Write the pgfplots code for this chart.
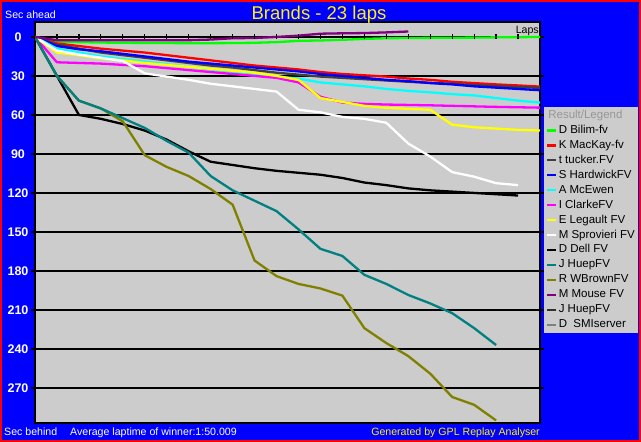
\documentclass[border=0pt]{standalone}
\usepackage{pgfplots}
\pgfplotsset{compat=1.18}
\usepackage{pgfplotstable}
\usepackage{fontspec}
\setmainfont{Liberation Sans}

\definecolor{bgblue}{RGB}{0,0,255}
\definecolor{plotbg}{RGB}{204,204,204}
\definecolor{resgray}{RGB}{150,150,150}
\definecolor{gplgreen}{RGB}{0,255,0}
\definecolor{gplred}{RGB}{255,0,0}
\definecolor{gplgrey}{RGB}{64,64,64}
\definecolor{gplblue}{RGB}{0,0,255}
\definecolor{gplcyan}{RGB}{0,255,255}
\definecolor{gplmag}{RGB}{255,0,255}
\definecolor{gplyellow}{RGB}{255,255,0}
\definecolor{gplteal}{RGB}{0,128,128}
\definecolor{gplolive}{RGB}{128,128,0}
\definecolor{gplpurple}{RGB}{128,0,128}
\definecolor{gpldark}{RGB}{48,48,48}
\definecolor{gplsmi}{RGB}{128,128,128}

% seconds behind per lap
\pgfplotstableread{
lap bilim mackay tucker hardwick mcewen clarke legault sprovieri dell huep wbrown mouse
0  0    0    0    0    0    0    0    0     0     0     0     0
1  3.5  5    6    7    9    19.5 12   10.5  30    30    30    2.5
2  4    7    9    9.5  12   20   14   13.5  60    49    49    2.5
3  4.3  9    12   11   15   20.5 16.5 16    63    55    55    2.5
4  4.5  10.5 14   13   17   21.5 18   18.5  67    62.5  65    2.5
5  4.6  12   16   15   19   22.5 20   28    72    70    91    2.5
6  4.7  14   18   17   21   24   21.5 30.5  79    80    100   2.5
7  4.8  16   20   19   23   25.5 23   33    88    89    107   2.5
8  4.8  18   22   20.5 25   27   24.5 36    96    107   117   2.0
9  4.7  20   23.5 22   27   28.5 26   38    98.5  118   129   1.0
10 4.5  22   25.5 23.5 29   30   27.5 40    101   126   172   0.8
11 4    23.5 27.5 25   30.5 31.5 30   42    103   134   184   0
12 3    25   29   26.5 32   35   33   56    104.5 148   190   -1
13 2.7  27   30.5 28.5 35   46   47   58    106   163   193.5 -2.5
14 2.2  28.5 31.5 30   36.5 50.5 50   61.5  108.5 168.5 199   -2.8
15 1.5  29.5 32.5 31.5 38   51.5 53   63    112   183   224   -3
16 1    30.5 33.5 33   40   52   54.5 66    114   190   235.5 -3.5
17 0.8  32   34.5 34   41.5 52.3 55.3 82    116.5 198.5 245.5 -4.2
18 0.7  33   35.3 35.5 42.6 52.6 56   92    118   205   259   nan
19 0.6  34.5 36   36.5 44   53   67.5 104   119   212.5 277   nan
20 0.5  35.5 37   38   45   53.4 69.5 107.5 120   224   283   nan
21 0.3  36.5 37.8 39   47   53.8 70.5 112.5 121   237   295   nan
22 0.2  37.3 38.5 40   49   54.1 71.5 114   122   nan   nan   nan
23 0    38.2 39.2 41   50.5 54.4 72   nan   nan   nan   nan   nan
}\laps

\begin{document}
\begin{tikzpicture}
\fill[red] (0,0) rectangle (641bp,442bp);
\fill[bgblue] (2.3bp,2.3bp) rectangle (638.7bp,439.7bp);
\fill[plotbg] (544bp,109bp) rectangle (638bp,334.7bp);

\begin{axis}[
    at={(35bp,19bp)}, anchor=south west,
    scale only axis, width=505bp, height=401bp,
    xmin=0, xmax=23, ymin=-11.5, ymax=297, y dir=reverse,
    axis background/.style={fill=plotbg},
    xtick=\empty,
    ytick={0,30,...,270},
    ymajorgrids,
    grid style={black, line width=1.2bp},
    axis line style={black, line width=1.3bp},
    major tick length=4bp, ytick align=outside,
    tick style={black, line width=1.2bp},
    /pgf/number format/assume math mode=true,
    yticklabel style={font=\fontsize{12.5bp}{14bp}\selectfont\bfseries,
        text=white, anchor=center, xshift=-13bp},
    unbounded coords=jump,
    every axis plot/.append style={line width=2.3bp, mark=none},
    legend image code/.code={\draw[#1] (0bp,0bp) -- (9bp,0bp);},
    legend cell align=left,
    legend style={at={(1.0119,0.7805)}, anchor=north west,
        fill=none, draw=none, inner sep=0pt, outer sep=0pt,
        row sep=3.94bp, column sep=1.5bp,
        font=\fontsize{11.5bp}{13bp}\selectfont,
        nodes={inner xsep=0pt, inner ysep=0pt, text height=8.5bp, text depth=2.5bp}},
]
% drawing order: olive under teal
\addplot[gplgreen,  forget plot] table[x=lap, y=bilim]     {\laps};
\addplot[gplred,    forget plot] table[x=lap, y=mackay]    {\laps};
\addplot[gplgrey,   forget plot] table[x=lap, y=tucker]    {\laps};
\addplot[gplblue,   forget plot] table[x=lap, y=hardwick]  {\laps};
\addplot[gplcyan,   forget plot] table[x=lap, y=mcewen]    {\laps};
\addplot[gplmag,    forget plot] table[x=lap, y=clarke]    {\laps};
\addplot[gplyellow, forget plot] table[x=lap, y=legault]   {\laps};
\addplot[white,     forget plot] table[x=lap, y=sprovieri] {\laps};
\addplot[black,     forget plot] table[x=lap, y=dell]      {\laps};
\addplot[gplolive,  forget plot] table[x=lap, y=wbrown]    {\laps};
\addplot[gplteal,   forget plot] table[x=lap, y=huep]      {\laps};
\addplot[gplpurple, forget plot] table[x=lap, y=mouse]     {\laps};

\addlegendimage{empty legend}
\addlegendentry{\hspace*{-10.5bp}\textcolor{resgray}{Result/Legend}}
\addlegendimage{gplgreen, line width=2.3bp}  \addlegendentry{D Bilim-fv}
\addlegendimage{gplred, line width=2.3bp}    \addlegendentry{K MacKay-fv}
\addlegendimage{gplgrey, line width=2.3bp}   \addlegendentry{t tucker.FV}
\addlegendimage{gplblue, line width=2.3bp}   \addlegendentry{S HardwickFV}
\addlegendimage{gplcyan, line width=2.3bp}   \addlegendentry{A McEwen}
\addlegendimage{gplmag, line width=2.3bp}    \addlegendentry{I ClarkeFV}
\addlegendimage{gplyellow, line width=2.3bp} \addlegendentry{E Legault FV}
\addlegendimage{white, line width=2.3bp}     \addlegendentry{M Sprovieri FV}
\addlegendimage{black, line width=2.3bp}     \addlegendentry{D Dell FV}
\addlegendimage{gplteal, line width=2.3bp}   \addlegendentry{J HuepFV}
\addlegendimage{gplolive, line width=2.3bp}  \addlegendentry{R WBrownFV}
\addlegendimage{gplpurple, line width=2.3bp} \addlegendentry{M Mouse FV}
\addlegendimage{gpldark, line width=2.3bp}   \addlegendentry{J HuepFV}
\addlegendimage{gplsmi, line width=2.3bp}    \addlegendentry{D\ \ SMIserver}

% lap ticks on the zero line
\pgfplotsinvokeforeach{1,...,22}{
  \draw[black, line width=1.2bp] ([yshift=-2bp]axis cs:#1,0) -- ([yshift=3bp]axis cs:#1,0);
}
\node[anchor=base east, font=\fontsize{10.6bp}{12bp}\selectfont, inner sep=0pt]
  at ([yshift=3.5bp, xshift=-1bp]axis cs:23,0) {Laps};
\end{axis}

\node[anchor=base, text=yellow, font=\fontsize{18.5bp}{20bp}\selectfont, inner sep=0pt]
  at (319bp,422bp) {Brands - 23 laps};
\node[anchor=base west, text=white, font=\fontsize{10.6bp}{12bp}\selectfont, inner sep=0pt]
  at (5bp,423bp) {Sec ahead};
\node[anchor=base west, text=white, font=\fontsize{10.6bp}{12bp}\selectfont, inner sep=0pt]
  at (4bp,7bp) {Sec behind};
\node[anchor=base west, text=white, font=\fontsize{10.6bp}{12bp}\selectfont, inner sep=0pt]
  at (70bp,7bp) {Average laptime of winner:1:50.009};
\node[anchor=base east, text=yellow, font=\fontsize{10.6bp}{12bp}\selectfont, inner sep=0pt]
  at (540bp,7bp) {Generated by GPL Replay Analyser};

\pgfresetboundingbox
\path[use as bounding box] (0,0) rectangle (641bp,442bp);
\end{tikzpicture}
\end{document}
